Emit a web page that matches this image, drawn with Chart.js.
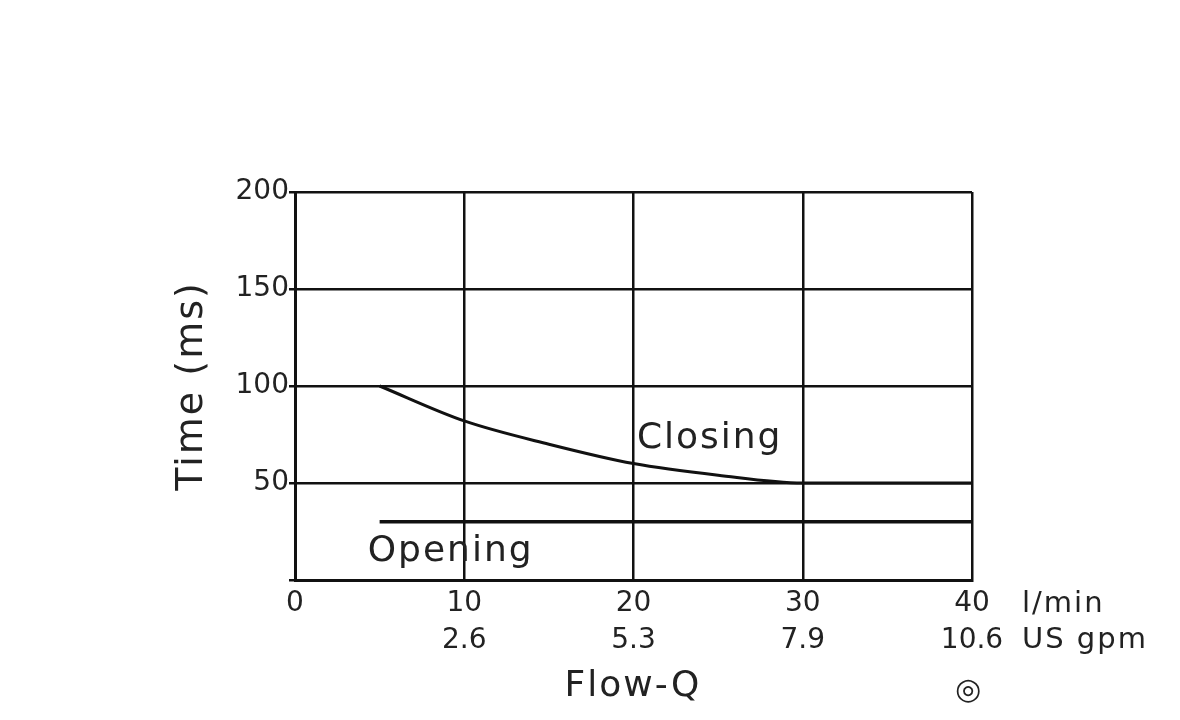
<!DOCTYPE html>
<html><head><meta charset="utf-8">
<script src="https://cdn.jsdelivr.net/npm/chart.js@4"></script>
<style>html,body{margin:0;background:#fff}#c{display:block}</style>
</head><body>
<canvas id="c" width="1180" height="720"></canvas>
<script>
const closingX = [5, 10, 15, 20, 25, 30, 40];
const closingY = [100, 82, 70, 60, 54, 50, 50];
const openingX = [5, 40];
const openingY = [30, 30];
const xTicks = [0, 10, 20, 30, 40];
const xTicksGpm = ['', '2.6', '5.3', '7.9', '10.6'];
const yTicks = [0, 50, 100, 150, 200];
const FONT = '"DejaVu Sans", sans-serif';

const labels = {
  id: 'labels',
  afterDraw(chart) {
    const c = chart.ctx, xs = chart.scales.x, ys = chart.scales.y;
    c.save();
    c.fillStyle = '#222';
    c.textBaseline = 'middle';
    c.textAlign = 'left';
    c.letterSpacing = '2px';
    c.font = '36px ' + FONT;
    c.fillText('Closing', xs.getPixelForValue(20.2), ys.getPixelForValue(73));
    c.fillText('Opening', xs.getPixelForValue(4.3), ys.getPixelForValue(14.5));
    c.font = '29px ' + FONT;
    c.fillText('l/min', 1022, 604);
    c.fillText('US gpm', 1022, 640);
    c.font = '36px ' + FONT;
    c.textAlign = 'center';
    c.fillText('Flow-Q', 633, 687);
    c.letterSpacing = '0px';
    c.font = '30px ' + FONT;
    c.fillText('◎', 968, 691);
    c.translate(192, 386);
    c.rotate(-Math.PI / 2);
    c.letterSpacing = '2px';
    c.font = '38px ' + FONT;
    c.fillText('Time (ms)', 0, 0);
    c.restore();
  }
};

new Chart(document.getElementById('c'), {
  type: 'line',
  data: {
    datasets: [
      { data: closingX.map((x, i) => ({x, y: closingY[i]})), borderColor: '#111', borderWidth: 3, pointRadius: 0, cubicInterpolationMode: 'monotone' },
      { data: openingX.map((x, i) => ({x, y: openingY[i]})), borderColor: '#111', borderWidth: 3.5, pointRadius: 0 }
    ]
  },
  options: {
    responsive: false, animation: false,
    layout: { padding: { top: 192, right: 208, left: 0, bottom: 0 } },
    plugins: { legend: { display: false }, tooltip: { enabled: false } },
    scales: {
      x: {
        type: 'linear', min: 0, max: 40,
        afterFit(s) { s.height = 140; },
        afterBuildTicks(s) { s.ticks = xTicks.map(v => ({value: v})); },
        grid: { color: '#111', lineWidth: 2.5, drawTicks: false },
        border: { color: '#111', width: 3 },
        ticks: {
          padding: 6, color: '#222', font: { size: 28, family: FONT, lineHeight: 1.3 }, maxRotation: 0,
          callback: (v, i) => xTicksGpm[i] ? [String(v), xTicksGpm[i]] : String(v)
        }
      },
      y: {
        min: 0, max: 200,
        afterFit(s) { s.width = 295; },
        afterBuildTicks(s) { s.ticks = yTicks.map(v => ({value: v})); },
        grid: { color: '#111', lineWidth: 2.5, drawTicks: true, tickLength: 6 },
        border: { color: '#111', width: 3 },
        ticks: { padding: 0, color: '#222', font: { size: 28, family: FONT },
          callback: v => v === 0 ? '' : String(v) }
      }
    }
  },
  plugins: [labels]
});
</script>
</body></html>
